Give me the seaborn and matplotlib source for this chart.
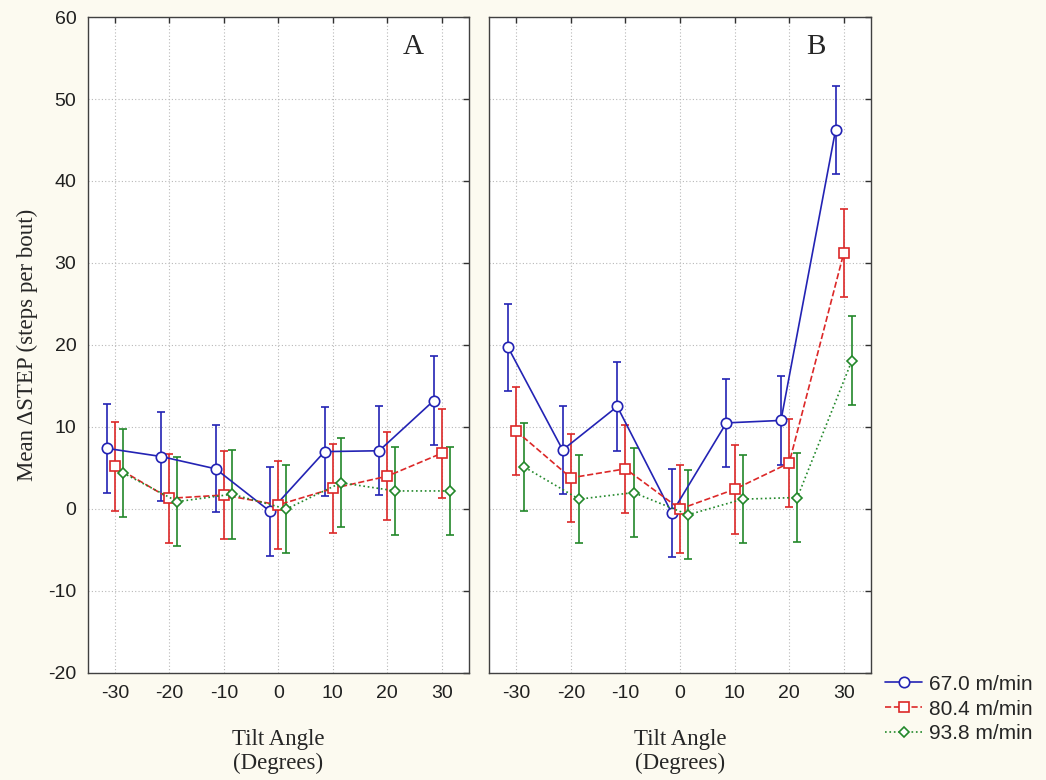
import numpy as np
import pandas as pd
import matplotlib
matplotlib.use("Agg")
import matplotlib.pyplot as plt
import seaborn as sns

# Данные
angles = [-30, -20, -10, 0, 10, 20, 30]
speeds = ["67.0 m/min", "80.4 m/min", "93.8 m/min"]

blue_a = [7.4, 6.4, 4.9, -0.3, 7.0, 7.1, 13.2]
red_a = [5.2, 1.3, 1.7, 0.5, 2.5, 4.0, 6.8]
green_a = [4.4, 0.9, 1.8, 0.0, 3.2, 2.2, 2.2]

blue_b = [19.7, 7.2, 12.5, -0.5, 10.5, 10.8, 46.2]
red_b = [9.5, 3.8, 4.9, 0.0, 2.4, 5.6, 31.2]
green_b = [5.1, 1.2, 2.0, -0.7, 1.2, 1.4, 18.1]

err_blue_a = [5.4, 5.4, 5.3, 5.4, 5.4, 5.4, 5.4]
err_red_a = [5.4, 5.4, 5.4, 5.4, 5.4, 5.4, 5.4]
err_green_a = [5.4, 5.4, 5.4, 5.4, 5.4, 5.4, 5.4]
err_blue_b = [5.3, 5.4, 5.4, 5.4, 5.4, 5.4, 5.4]
err_red_b = [5.4, 5.4, 5.4, 5.4, 5.4, 5.4, 5.4]
err_green_b = [5.4, 5.4, 5.4, 5.4, 5.4, 5.4, 5.4]

panels = {
    "A": [(blue_a, err_blue_a), (red_a, err_red_a), (green_a, err_green_a)],
    "B": [(blue_b, err_blue_b), (red_b, err_red_b), (green_b, err_green_b)],
}

sns.set_style("white")
plt.rcParams["font.family"] = ["Liberation Sans", "DejaVu Sans"]
plt.rcParams["axes.unicode_minus"] = False

colors = ["#2323b4", "#dc2828", "#22882a"]
markers = ["o", "s", "D"]
msizes = [7.5, 7.0, 5.2]
lstyles = ["-", "--", ":"]
offsets = [-0.15, 0.0, 0.15]
serif = ["Liberation Serif", "DejaVu Serif"]

fig = plt.figure(figsize=(10.46, 7.8), dpi=100)
fig.patch.set_facecolor("#fcfaf0")
ax_a = fig.add_axes([0.0837, 0.1372, 0.3647, 0.8410])
ax_b = fig.add_axes([0.4675, 0.1372, 0.3652, 0.8410])

for ax, (name, series) in zip([ax_a, ax_b], panels.items()):
    pos = np.arange(len(angles))
    for i, (vals, errs) in enumerate(series):
        x = pos + offsets[i]
        df = pd.DataFrame({"x": x, "y": vals})
        sns.lineplot(data=df, x="x", y="y", ax=ax, color=colors[i],
                     linestyle=lstyles[i], linewidth=1.2, marker=markers[i],
                     markersize=msizes[i], markerfacecolor="white",
                     markeredgecolor=colors[i], markeredgewidth=1.2,
                     label=speeds[i], legend=False, zorder=3)
        ax.errorbar(x, vals, yerr=errs, fmt="none", ecolor=colors[i],
                    elinewidth=1.2, capsize=3, capthick=1.2, zorder=2)

    ax.set_xlim(-0.5, 6.5)
    ax.set_ylim(-20, 60)
    ax.set_xticks(pos)
    ax.set_xticklabels([str(a) for a in angles])
    ax.set_yticks(range(-20, 61, 10))
    ax.grid(True, linestyle=(0, (1, 2)), color="#b8b8b8", linewidth=0.8)
    ax.set_facecolor("white")
    for sp in ax.spines.values():
        sp.set_color("#404040")
        sp.set_linewidth(1.0)
    ax.tick_params(direction="in", length=4, width=1, color="#303030",
                   top=True, right=True, labelsize=14, labelcolor="#202020")
    ax.tick_params(axis="x", pad=9)
    ax.tick_params(axis="y", pad=8)
    ax.set_xlabel("Tilt Angle\n(Degrees)", family=serif, fontsize=16.5,
                  labelpad=19, linespacing=1.2)
    ax.set_ylabel("")
    ax.text(0.855, 0.955, name, transform=ax.transAxes, family=serif,
            fontsize=21, ha="center", va="center")

ax_a.set_ylabel("Mean \u0394STEP (steps per bout)", family=serif, fontsize=16.5,
                labelpad=7)
ax_b.tick_params(axis="y", labelleft=False)

handles, labels = ax_b.get_legend_handles_labels()
fig.legend(handles, labels, loc="center left", bbox_to_anchor=(0.846, 0.091),
           frameon=False, fontsize=15, handlelength=1.8, handletextpad=0.3,
           labelspacing=0.28, borderpad=0, borderaxespad=0)

fig.savefig("out.png", dpi=100, facecolor=fig.get_facecolor())
